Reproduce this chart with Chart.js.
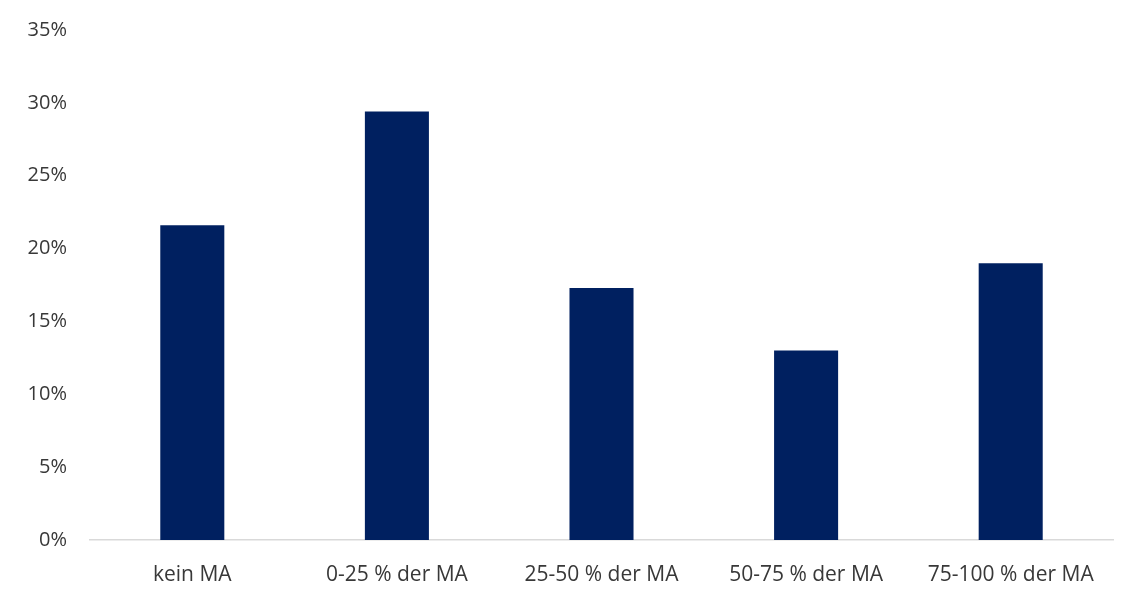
<!DOCTYPE html>
<html>
<head>
<meta charset="utf-8">
<script src="https://cdn.jsdelivr.net/npm/chart.js@4"></script>
<style>
  html, body { margin: 0; padding: 0; background: #fff; }
  #wrap { width: 1124px; height: 592px; }
</style>
</head>
<body>
<div id="wrap"><canvas id="myChart"></canvas></div>
<script>
// categories and shares (percent)
const categories = ["kein MA", "0-25 % der MA", "25-50 % der MA", "50-75 % der MA", "75-100 % der MA"];
const shares = [21.6, 29.4, 17.3, 13.0, 19.0];
const yTicks = [0, 5, 10, 15, 20, 25, 30, 35];

function chartFunc(xValues, yValues) {
  const barColor = "#002060";
  const textColor = "#383838";
  const fontFamily = "'Open Sans', 'Noto Sans', sans-serif";
  const myChart = document.getElementById('myChart');
  new Chart(myChart, {
    type: 'bar',
    data: {
      labels: xValues,
      datasets: [{
        backgroundColor: barColor,
        barPercentage: 0.313,
        categoryPercentage: 1,
        data: yValues
      }]
    },
    options: {
      responsive: true,
      maintainAspectRatio: false,
      animation: false,
      layout: { padding: { top: 30, right: 11, bottom: 0, left: 0 } },
      plugins: {
        legend: { display: false },
        tooltip: { enabled: false }
      },
      scales: {
        x: {
          afterFit: function (axis) { axis.height = 52; },
          grid: { display: false },
          border: { color: "#d9d9d9", width: 1.5 },
          ticks: {
            color: textColor,
            font: { family: fontFamily, size: 21 },
            padding: 14,
            maxRotation: 0
          }
        },
        y: {
          min: 0,
          max: 35,
          afterBuildTicks: function (axis) {
            axis.ticks = yTicks.map(v => ({ value: v }));
          },
          afterFit: function (axis) { axis.width = 90; },
          grid: { display: false },
          border: { display: false },
          ticks: {
            color: textColor,
            font: { family: fontFamily, size: 20 },
            padding: 15,
            callback: v => v + "%"
          }
        }
      }
    }
  });
}

chartFunc(categories, shares);
</script>
</body>
</html>
